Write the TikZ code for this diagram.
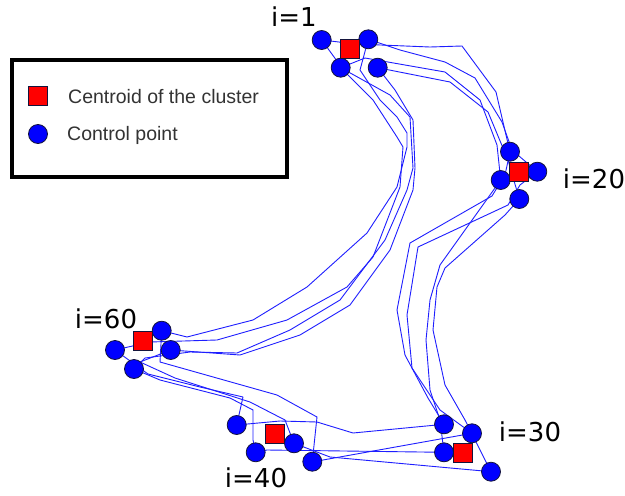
\documentclass[tikz,border=0pt]{standalone}
\usepackage{fontspec}
\setmainfont{Liberation Sans}
\newfontfamily\labelfont{DejaVu Sans}
\usetikzlibrary{backgrounds}
\definecolor{TrackBlue}{RGB}{30,30,255}
\definecolor{PointBlue}{RGB}{0,0,255}
\definecolor{CentroidRed}{RGB}{255,0,0}
\definecolor{EdgeDark}{RGB}{20,20,60}
\tikzset{
  track/.style={draw=TrackBlue,line width=0.9pt,line join=round},
  ctrlpt/.style={circle,draw=EdgeDark,fill=PointBlue,line width=0.8pt,
    minimum size=19pt,inner sep=0pt},
  centroid/.style={rectangle,draw=EdgeDark,fill=CentroidRed,line width=0.8pt,
    minimum size=19pt,inner sep=0pt},
  ilabel/.style={font=\labelfont\fontsize{26}{30}\selectfont,inner sep=0pt},
  legtext/.style={font=\fontsize{19.5}{22}\selectfont,anchor=base west,
    inner sep=0pt,text=black!80},
  legbox/.style={draw=black,line width=3.5pt,anchor=north west,
    minimum width=275pt,minimum height=117pt}
}

\begin{document}
\begin{tikzpicture}[x=1pt,y=-1pt]
  \useasboundingbox (0,0) rectangle (625,496);
  \node[legbox] (legend) at (10,58) {};
  \node[centroid] (legsq) at (38,96) {};
  \node[ctrlpt] (legpt) at (38,134) {};
  \node[legtext] (legsqtxt) at (68,103) {Centroid of the cluster};
  \node[legtext] (legpttxt) at (67,140) {Control point};

  \node[ctrlpt] (a1) at (321.7,40) {};
  \node[ctrlpt] (a2) at (368.3,39.3) {};
  \node[ctrlpt] (a3) at (340.7,67.7) {};
  \node[ctrlpt] (a4) at (377.7,67.7) {};
  \node[centroid] (c1) at (350,49.3) {};
  \node[ilabel] (l1) at (294,17) {i=1};

  \node[ctrlpt] (b1) at (510,151.7) {};
  \node[ctrlpt] (b2) at (537.3,171.7) {};
  \node[ctrlpt] (b3) at (500.7,180) {};
  \node[ctrlpt] (b4) at (519.3,199) {};
  \node[centroid] (c20) at (519.3,171.7) {};
  \node[ilabel] (l20) at (594,179) {i=20};

  \node[ctrlpt] (d1) at (444,424.3) {};
  \node[ctrlpt] (d2) at (472,433.3) {};
  \node[ctrlpt] (d3) at (444,452.3) {};
  \node[ctrlpt] (d4) at (491,471.7) {};
  \node[centroid] (c30) at (462.7,453.3) {};
  \node[ilabel] (l30) at (530,432) {i=30};

  \node[ctrlpt] (e1) at (236.7,425) {};
  \node[ctrlpt] (e2) at (294,443.3) {};
  \node[ctrlpt] (e3) at (255.7,452.3) {};
  \node[ctrlpt] (e4) at (312.3,461.7) {};
  \node[centroid] (c40) at (275,434.3) {};
  \node[ilabel] (l40) at (256,478) {i=40};

  \node[ctrlpt] (f1) at (161.7,330.7) {};
  \node[ctrlpt] (f2) at (115,350) {};
  \node[ctrlpt] (f3) at (170.7,350) {};
  \node[ctrlpt] (f4) at (134,369) {};
  \node[centroid] (c60) at (142.7,340.7) {};
  \node[ilabel] (l60) at (106,319) {i=60};

  \begin{scope}[on background layer]
    \fill[white] (0,0) rectangle (625,496);
    \draw[track] (a1.center) -- (356,44) -- (430,47) -- (462,46) -- (496,92) -- (506,135)
      -- (b1.center) -- (505,175) -- (492,196) -- (410,243) -- (397,310) -- (405,355) -- (428,398)
      -- (d1.center) -- (353,433) -- (317,422) -- (280,421)
      -- (e1.center) -- (243,397) -- (200,387) -- (148,374)
      -- (f2.center) -- (150,342) -- (217,340) -- (287,320) -- (347,287) -- (373,257)
      -- (400,187) -- (403,147) -- (397,137) -- (373,100) -- (345,72) -- cycle;
    \draw[track] (a2.center) -- (400,50) -- (445,62) -- (475,78) -- (502,122) -- (512,150)
      -- (b2.center) -- (520,185) -- (508,205) -- (418,247) -- (407,315) -- (412,368) -- (440,410)
      -- (d2.center) -- (323,460)
      -- (e4.center) -- (317,417) -- (277,395) -- (160,362)
      -- (f1.center) -- (187,337) -- (253,320) -- (307,287) -- (367,233) -- (397,187)
      -- (407,147) -- (407,133) -- (397,117) -- (380,100) -- (360,70) -- cycle;
    \draw[track] (a3.center) -- (365,58) -- (445,72) -- (480,100) -- (497,145)
      -- (b3.center) -- (440,265) -- (430,300) -- (426,340) -- (430,390) -- (440,420)
      -- (d3.center) -- (267,450)
      -- (e3.center) -- (253,440) -- (253,410) -- (230,398) -- (160,380)
      -- (f4.center) -- (145,358) -- (190,352) -- (237,353) -- (290,330) -- (340,300)
      -- (385,240) -- (407,190) -- (413,168) -- (410,117) -- (390,95) -- cycle;
    \draw[track] (a4.center) -- (450,82) -- (488,112) -- (508,160)
      -- (b4.center) -- (505,215) -- (445,268) -- (437,287) -- (433,330) -- (445,385) -- (465,420)
      -- (d4.center) -- (330,457)
      -- (e2.center) -- (285,420) -- (250,402) -- (175,378) -- (140,362)
      -- (f3.center) -- (240,355) -- (300,335) -- (350,305) -- (390,250) -- (413,190)
      -- (415,168) -- (413,120) -- (395,90) -- cycle;
  \end{scope}
\end{tikzpicture}
\end{document}
